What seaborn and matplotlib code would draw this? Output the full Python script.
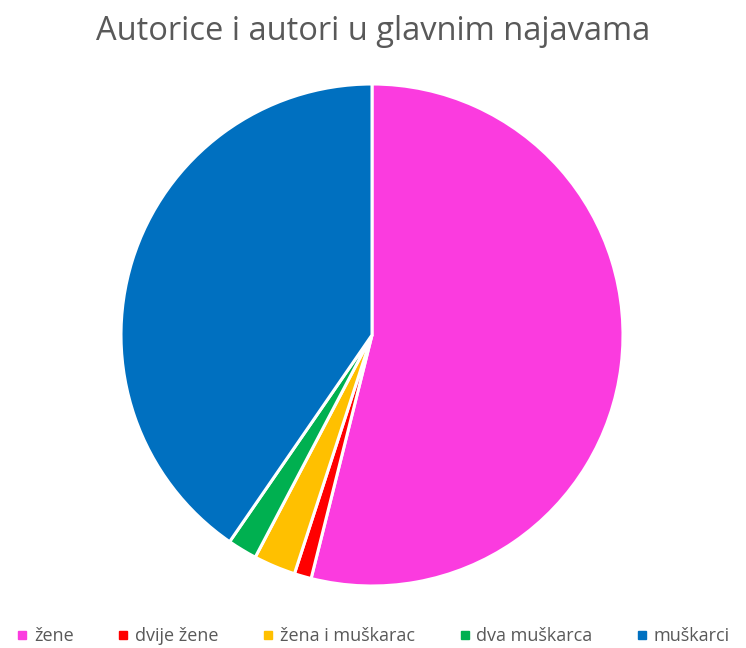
import matplotlib
matplotlib.use("Agg")
import matplotlib.pyplot as plt
from matplotlib.lines import Line2D
import seaborn as sns

categories = ["žene", "dvije žene", "žena i muškarac", "dva muškarca", "muškarci"]
values = [53.9, 1.1, 2.7, 1.9, 40.4]
colors = ["#FB3BDF", "#FF0000", "#FFC000", "#00B050", "#0070C0"]

sns.set_theme(style="white")
plt.rcParams['font.family'] = ['Open Sans', 'DejaVu Sans']

fig = plt.figure(figsize=(7.46, 6.48), dpi=100)
r_w = 502 / 746
r_h = 502 / 648
cx = 372 / 746
cy = 1 - 335 / 648
ax = fig.add_axes([cx - r_w / 2, cy - r_h / 2, r_w, r_h])
ax.pie(values, colors=colors, startangle=90, counterclock=False,
       wedgeprops=dict(edgecolor="white", linewidth=2.2), radius=1.0)
ax.set_xlim(-1.0, 1.0)
ax.set_ylim(-1.0, 1.0)
ax.set_aspect("equal")

fig.text(0.5, 1 - 31 / 648, "Autorice i autori u glavnim najavama",
         ha="center", va="center", fontsize=23.5, color="#595959")

handles = [Line2D([0], [0], marker="s", linestyle="none", markersize=6,
                  markerfacecolor=c, markeredgecolor=c) for c in colors]
fig.legend(handles, categories, loc="center", bbox_to_anchor=(0.5, 1 - 636 / 648),
           ncol=5, frameon=False, fontsize=13, labelcolor="#595959",
           handlelength=0.7, handletextpad=0.3, columnspacing=2.4,
           borderpad=0.1, borderaxespad=0.0)

fig.savefig("out.png", dpi=100)
